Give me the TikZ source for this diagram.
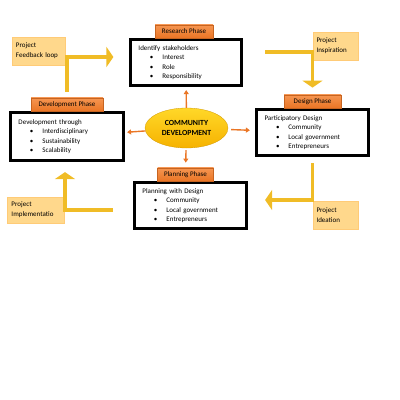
\documentclass[tikz,border=0pt]{standalone}
\usepackage{fontspec}
\setmainfont{Carlito}
\usepackage{xcolor}
\usepackage{tikz}
\usetikzlibrary{arrows.meta,positioning,shapes.geometric}
\definecolor{phase}{RGB}{234,118,38}
\definecolor{phasetop}{RGB}{246,150,82}
\definecolor{peach}{RGB}{255,216,140}
\definecolor{loopgold}{RGB}{240,188,38}
\definecolor{coretop}{RGB}{255,216,40}
\definecolor{corebot}{RGB}{246,178,0}
\newcommand{\itm}[1]{\\\hspace*{11.5pt}\makebox[12.5pt][l]{\textbullet}#1}
\tikzset{
  phasebox/.style={draw=black, line width=3.2pt, fill=white, align=left, inner sep=0pt,
    font=\fontsize{7}{9.3}\selectfont},
  phaselbl/.style={draw=phase!85!black, line width=0.3pt, top color=phasetop, bottom color=phase,
    minimum height=13pt, inner xsep=4pt, inner ysep=0pt, font=\fontsize{7}{8}\selectfont},
  idea/.style={fill=peach, draw=peach!85!orange, line width=0.4pt, align=left, inner sep=0pt,
    font=\fontsize{7}{10}\selectfont},
  core/.style={ellipse, top color=coretop, bottom color=corebot, draw=corebot!85!black, line width=0.3pt,
    minimum width=83pt, minimum height=40pt, inner sep=0pt, align=center,
    font=\fontsize{7.8}{10}\selectfont\bfseries},
  spoke/.style={draw=phase, line width=1.4pt, -{Triangle[length=4pt,width=5pt]}},
  loop/.style={draw=loopgold, line width=3.5pt, -{Triangle[length=7pt,width=20pt]}}
}
\begin{document}
\begin{tikzpicture}[x=1pt, y=-1pt]
  \useasboundingbox (0,0) rectangle (400,400);
  % phases
  \node[phasebox, minimum width=111pt, minimum height=46pt, text width=95pt] (research) at (186,62.5)
    {Identify stakeholders\itm{Interest}\itm{Role}\itm{Responsibility}};
  \node[phasebox, minimum width=112pt, minimum height=46pt, text width=96pt] (design) at (312.5,132.5)
    {Participatory Design\itm{Community}\itm{Local government}\itm{Entrepreneurs}};
  \node[phasebox, minimum width=113pt, minimum height=48pt, text width=97pt] (development) at (67,136.5)
    {Development through\itm{Interdisciplinary}\itm{Sustainability}\itm{Scalability}};
  \node[phasebox, minimum width=112pt, minimum height=46pt, text width=96pt] (planning) at (190.5,205.5)
    {Planning with Design\itm{Community}\itm{Local government}\itm{Entrepreneurs}};

  \node[phaselbl, minimum width=58pt, above=0pt of research, xshift=-2pt] (researchlbl) {Research Phase};
  \node[phaselbl, minimum width=57pt, above=0pt of design] (designlbl) {Design Phase};
  \node[phaselbl, minimum width=72pt, above=0pt of development] (devlbl) {Development Phase};
  \node[phaselbl, minimum width=56pt, above=0pt of planning, xshift=-5pt] (planninglbl) {Planning Phase};

  \node[core] (core) at (186.5,128) {COMMUNITY\\DEVELOPMENT};

  % project notes
  \node[idea, minimum width=53pt, minimum height=28pt, text width=45pt] (feedback) at (38.5,51) {Project\\Feedback loop};
  \node[idea, minimum width=45pt, minimum height=28pt, text width=38pt] (inspiration) at (335.5,46) {Project\\Inspiration};
  \node[idea, minimum width=45pt, minimum height=28pt, text width=38pt] (ideation) at (335.5,215) {Project\\Ideation};
  \node[idea, minimum width=57pt, minimum height=26pt, text width=48pt] (implementation) at (35.5,210) {Project\\Implementatio};

  \draw[spoke, shorten >=3pt] (core) -- (research);
  \draw[spoke, shorten <=3pt, shorten >=5pt] (core) -- (design);
  \draw[spoke, shorten >=2pt] (core) -- (development);
  \draw[spoke, shorten <=2pt, shorten >=5pt] (core) -- (planninglbl);

  \draw[loop, shorten >=15.5pt] ([yshift=6pt]devlbl.north) |- ([yshift=5.5pt]research.west);
  \draw[loop, shorten >=7pt] ([xshift=22pt,yshift=10.5pt]research.east) -| (designlbl);
  \draw[loop] ([yshift=-6pt]design.south) |- ([xshift=17pt,yshift=5.5pt]planning.east);
  \draw[loop, shorten >=10pt] ([xshift=-20pt,yshift=-4.5pt]planning.west) -| ([xshift=-2pt]development.south);
\end{tikzpicture}
\end{document}
